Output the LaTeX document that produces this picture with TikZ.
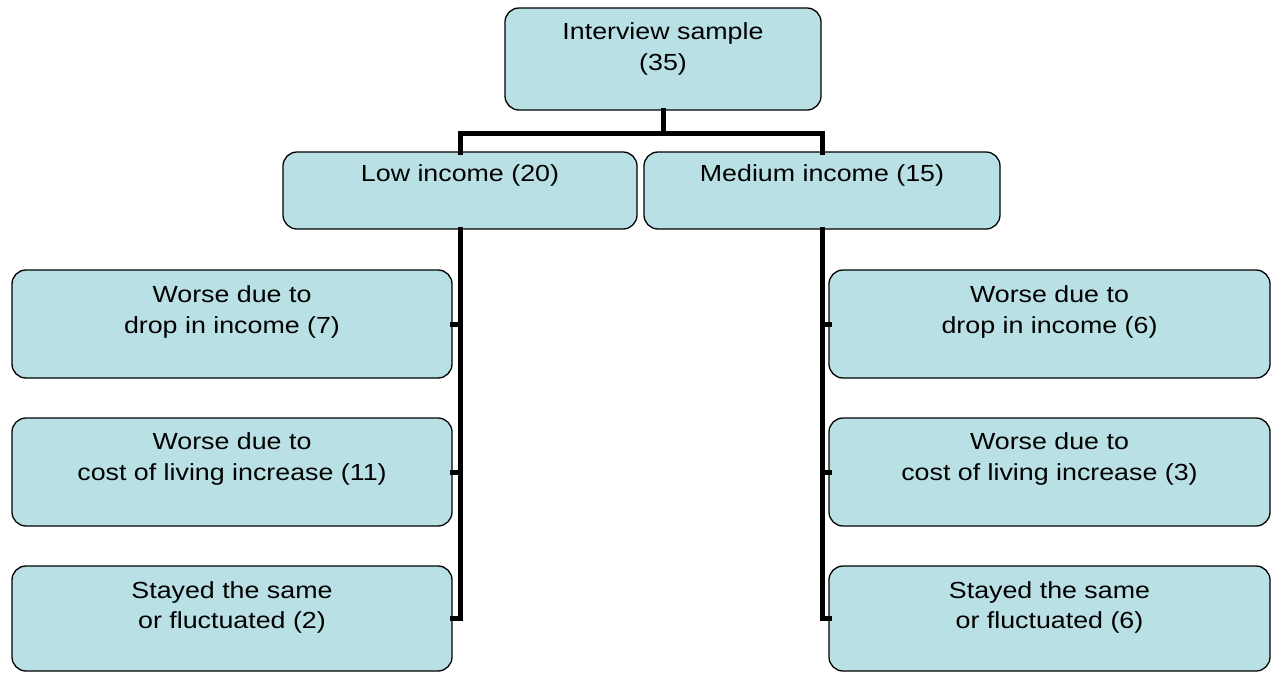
\documentclass[tikz,border=0pt]{standalone}
\usepackage{fontspec}
\setmainfont{Liberation Sans}[FakeStretch=1.15]
\definecolor{boxfill}{RGB}{185,224,228}
\tikzset{
  box/.style={draw=black, line width=1.3pt, fill=boxfill, rounded corners=14pt, inner sep=0pt, outer sep=0pt},
  conn/.style={draw=black, line width=5pt, line join=miter, line cap=rect},
}
\newcommand{\boxtext}[4]{\parbox[c][#2pt][t]{#1pt}{\centering\fontsize{23.3}{30.5}\selectfont\vspace*{#3pt}#4\par}}
\begin{document}
\begin{tikzpicture}[x=1pt,y=-1pt]
\useasboundingbox (0,0) rectangle (1277,673);
\coordinate (junc) at (663,133);
\node[box] (top) at (663,59) {\boxtext{316}{102}{10.5}{\strut Interview sample\\(35)}};
\node[box] (low) at (460,190.5) {\boxtext{354}{77}{8.5}{\strut Low income (20)}};
\node[box] (med) at (822,190.5) {\boxtext{356}{77}{8.5}{\strut Medium income (15)}};
\node[box] (l1) at (232,324) {\boxtext{440}{108}{11.5}{\strut Worse due to\\drop in income (7)}};
\node[box] (l2) at (232,472) {\boxtext{440}{108}{10.5}{\strut Worse due to\\cost of living increase (11)}};
\node[box] (l3) at (232,618.5) {\boxtext{440}{105}{11}{\strut Stayed the same\\or fluctuated (2)}};
\node[box] (r1) at (1049.5,324) {\boxtext{441}{108}{11.5}{\strut Worse due to\\drop in income (6)}};
\node[box] (r2) at (1049.5,472) {\boxtext{441}{108}{10.5}{\strut Worse due to\\cost of living increase (3)}};
\node[box] (r3) at (1049.5,618.5) {\boxtext{441}{105}{11}{\strut Stayed the same\\or fluctuated (6)}};
\draw[conn] (top.south) -- (junc);
\draw[conn] (junc) -| (low.north);
\draw[conn] (junc) -| (med.north);
\draw[conn] (low.south) |- (l3.east);
\draw[conn] (l1.east) -- (l1.east -| low.south);
\draw[conn] (l2.east) -- (l2.east -| low.south);
\draw[conn] (med.south) |- (r3.west);
\draw[conn] (r1.west) -- (r1.west -| med.south);
\draw[conn] (r2.west) -- (r2.west -| med.south);
\end{tikzpicture}
\end{document}
